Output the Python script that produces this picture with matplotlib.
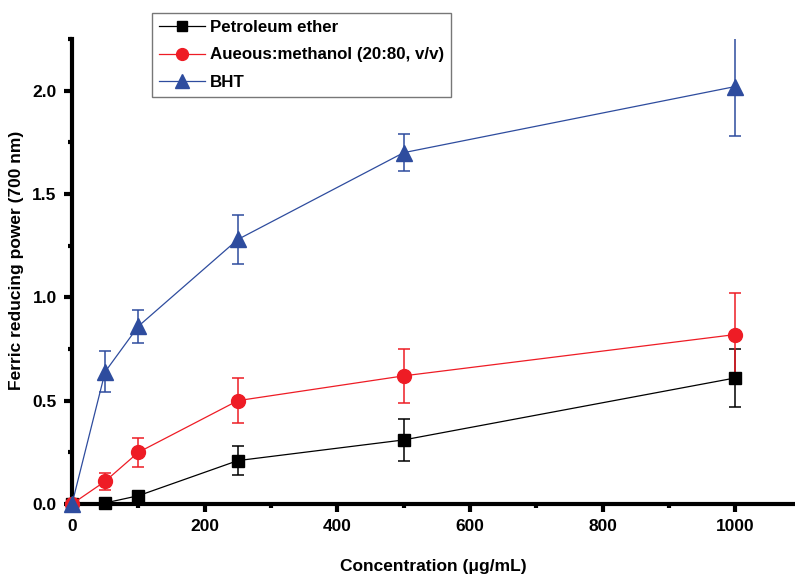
import matplotlib
matplotlib.use("Agg")
import matplotlib.pyplot as plt
from matplotlib.ticker import MultipleLocator
from matplotlib.lines import Line2D

conc = [0, 50, 100, 250, 500, 1000]
pe_vals = [0.0, 0.005, 0.04, 0.21, 0.31, 0.61]
pe_err = [0.0, 0.0, 0.0, 0.07, 0.10, 0.14]
aq_vals = [0.0, 0.11, 0.25, 0.50, 0.62, 0.82]
aq_err = [0.0, 0.04, 0.07, 0.11, 0.13, 0.20]
bht_vals = [0.0, 0.64, 0.86, 1.28, 1.70, 2.02]
bht_err = [0.0, 0.10, 0.08, 0.12, 0.09, 0.24]

labels = ["Petroleum ether", "Aueous:methanol (20:80, v/v)", "BHT"]

plt.rcParams['font.family'] = ['Liberation Sans', 'DejaVu Sans']
plt.rcParams['font.weight'] = 'bold'

fig = plt.figure(figsize=(7.95, 5.75), dpi=100)
ax = fig.add_axes([72/795, 1-504/575, 1-72/795, (504-39)/575])

series = [
    (pe_vals, pe_err, '#000000', 's', 9, labels[0]),
    (aq_vals, aq_err, '#ee1c25', 'o', 10, labels[1]),
    (bht_vals, bht_err, '#2e4c9e', '^', 11, labels[2]),
]
handles = []
for vals, err, c, m, ms, lab in series:
    cont = ax.errorbar(conc, vals, yerr=err, color=c, marker=m, markersize=ms,
                       linewidth=0.9, elinewidth=1.1, capsize=4, capthick=1.1,
                       zorder=3)
    cont.lines[0].set_clip_on(False)
    handles.append(Line2D([], [], color=c, marker=m, markersize=ms - 1.5, linewidth=0.9, label=lab))

ax.set_xlim(0, 1090)
ax.set_ylim(0, 2.25)
ax.xaxis.set_major_locator(MultipleLocator(200))
ax.xaxis.set_minor_locator(MultipleLocator(100))
ax.yaxis.set_major_locator(MultipleLocator(0.5))
ax.yaxis.set_minor_locator(MultipleLocator(0.25))
for s in ['top', 'right']:
    ax.spines[s].set_visible(False)
for s in ['left', 'bottom']:
    ax.spines[s].set_linewidth(3)
ax.tick_params(which='major', direction='out', length=6, width=3, labelsize=12.5, pad=5)
ax.tick_params(which='minor', direction='out', length=3, width=3)
for t in ax.get_xticklabels() + ax.get_yticklabels():
    t.set_fontweight('bold')
ax.set_xlabel('Concentration (\u03bcg/mL)', fontsize=12.5, fontweight='bold', labelpad=18)
ax.set_ylabel('Ferric reducing power (700 nm)', fontsize=12.5, fontweight='bold', labelpad=6)
ax.yaxis.label.set_y(0.523)

leg = ax.legend(handles=handles, loc='upper left', fontsize=12.2, frameon=True, fancybox=False,
                edgecolor='#555555', handlelength=2.7, borderpad=0.4, labelspacing=0.75,
                handletextpad=0.3, borderaxespad=0)
leg.get_frame().set_linewidth(1.0)
leg.set_bbox_to_anchor((152/795, 1-13/575), transform=fig.transFigure)
for t in leg.get_texts():
    t.set_fontweight('bold')

fig.savefig('out.png', dpi=100)
